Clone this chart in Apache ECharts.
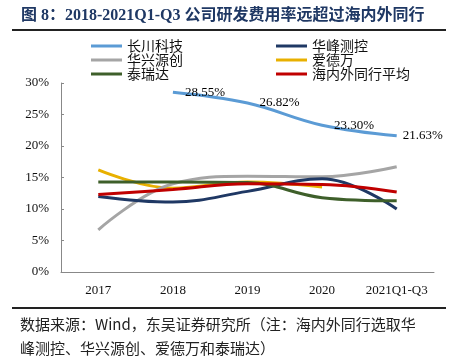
<!DOCTYPE html>
<html><head><meta charset="utf-8">
<script src="https://cdn.jsdelivr.net/npm/echarts@6/dist/echarts.min.js"></script>
<style>html,body{margin:0;padding:0;background:#fff}#c{width:457px;height:357px}</style>
</head><body><div id="c"></div>
<script>
var categories = ['2017', '2018', '2019', '2020', '2021Q1-Q3'];
var changchuan = [null, 28.55, 26.82, 23.30, 21.63];
var huafeng = [12.0, 11.1, 12.8, 14.8, 10.0];
var huaxing = [6.7, 14.0, 15.2, 15.1, 16.7];
var aidewan = [16.2, 13.3, 14.3, 13.5, null];
var tairuida = [14.3, 14.3, 14.2, 11.8, 11.3];
var average = [12.3, 13.1, 14.0, 13.9, 12.7];
var yTicks = [0, 5, 10, 15, 20, 25, 30];
var labelDist = [0, 12, 12, 12, 6];

var serif = '"Liberation Serif","Noto Sans CJK SC",serif';
var cjk = '"Noto Sans CJK SC","Liberation Serif",sans-serif';

function mk(name, data, color, z, labels) {
  var s = {
    name: name, type: 'line', data: data, smooth: 0.4, showSymbol: !!labels, symbol: 'circle', symbolSize: 0.01,
    connectNulls: false, z: z,
    lineStyle: { color: color, width: 3 }, itemStyle: { color: color }
  };
  if (labels) {
    s.data = data.map(function (v, i) {
      return v == null ? null : { value: v, label: { show: true, position: 'right', distance: labelDist[i],
        formatter: v.toFixed(2) + '%', color: '#000', fontFamily: serif, fontSize: 13 } };
    });
  }
  return s;
}

var chart = echarts.init(document.getElementById('c'));
var legendText = { fontFamily: cjk, fontSize: 14, color: '#111' };
chart.setOption({
  animation: false,
  grid: { left: 61, right: 23, top: 83, bottom: 85 },
  legend: [
    { data: ['长川科技', '华兴源创', '泰瑞达'], orient: 'vertical', left: 86, top: 34, itemGap: 0,
      itemWidth: 31, itemHeight: 3, icon: 'rect', textStyle: legendText },
    { data: ['华峰测控', '爱德万', '海内外同行平均'], orient: 'vertical', left: 271, top: 34, itemGap: 0,
      itemWidth: 31, itemHeight: 3, icon: 'rect', textStyle: legendText }
  ],
  xAxis: {
    type: 'category', data: categories, boundaryGap: true,
    axisLine: { lineStyle: { color: '#888' } },
    axisTick: { inside: true, length: 3, lineStyle: { color: '#888' } },
    axisLabel: { fontFamily: serif, fontSize: 13, color: '#111', margin: 12, interval: 0 }
  },
  yAxis: {
    type: 'value', min: yTicks[0], max: yTicks[yTicks.length - 1], interval: 5,
    axisLine: { show: true, lineStyle: { color: '#888' } },
    axisTick: { show: true, inside: true, length: 3, lineStyle: { color: '#888' } },
    splitLine: { show: false },
    axisLabel: { fontFamily: serif, fontSize: 13, color: '#111', margin: 12, formatter: '{value}%' }
  },
  series: [
    mk('长川科技', changchuan, '#5B9BD5', 6, true),
    mk('华峰测控', huafeng, '#1F3864', 3),
    mk('华兴源创', huaxing, '#A5A5A5', 2),
    mk('爱德万', aidewan, '#E8B000', 1),
    mk('泰瑞达', tairuida, '#3E5F2A', 4),
    mk('海内外同行平均', average, '#C00000', 5)
  ],
  graphic: [
    { type: 'text', left: 21, top: 8, style: { text: '图 8：2018-2021Q1-Q3 公司研发费用率远超过海内外同行',
      fontFamily: serif, fontWeight: 'bold', fontSize: 16, fill: '#1F3864' } },
    { type: 'rect', shape: { x: 12, y: 29, width: 434, height: 2 }, style: { fill: '#222' } },
    { type: 'rect', shape: { x: 12, y: 307, width: 434, height: 2 }, style: { fill: '#222' } },
    { type: 'text', left: 20, top: 312, style: { text: '数据来源：Wind，东吴证券研究所（注：海内外同行选取华\n峰测控、华兴源创、爱德万和泰瑞达）',
      fontFamily: cjk, fontSize: 15, lineHeight: 24, fill: '#222' } }
  ]
});
</script></body></html>
